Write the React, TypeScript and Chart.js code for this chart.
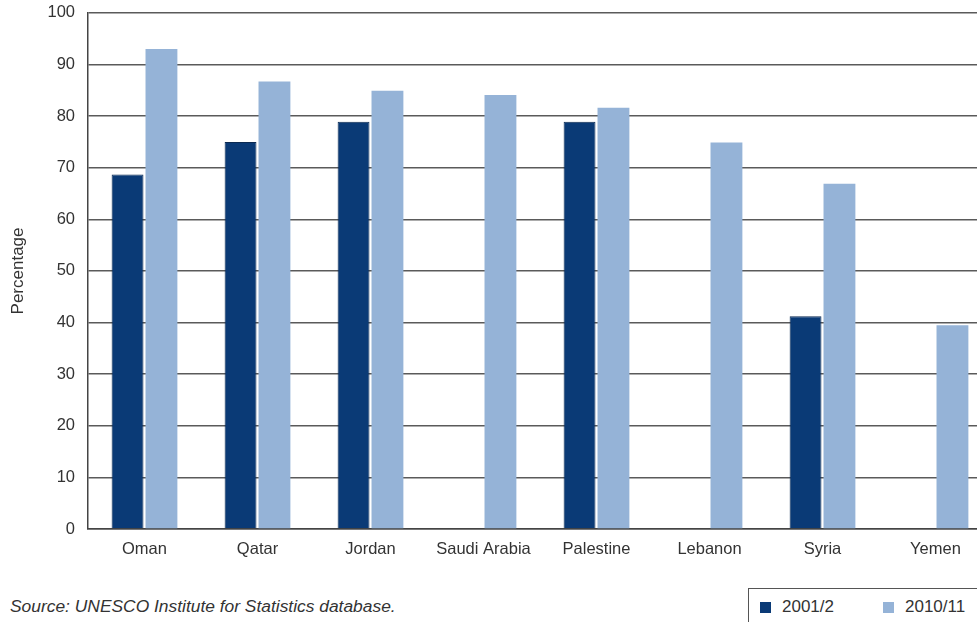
import React, { useEffect, useRef } from "react";
import { Chart, registerables } from "chart.js";

Chart.register(...registerables);

const categories = ["Oman", "Qatar", "Jordan", "Saudi Arabia", "Palestine", "Lebanon", "Syria", "Yemen"];
const series2001 = [68.7, 75.0, 78.9, null, 78.9, null, 41.2, null];
const series2010 = [93.0, 86.7, 84.9, 84.1, 81.6, 74.9, 66.9, 39.5];
const seriesLabels = ["2001/2", "2010/11"];
const seriesColors = ["#0a3a76", "#95b3d7"];
const yTicks = [0, 10, 20, 30, 40, 50, 60, 70, 80, 90, 100];
const yTitle = "Percentage";
const sourceText = "Source: UNESCO Institute for Statistics database.";

const FONT = "'Liberation Sans', Arial, sans-serif";

export default function App() {
  const ref = useRef<HTMLCanvasElement | null>(null);
  useEffect(() => {
    if (!ref.current) return;
    const chart = new Chart(ref.current, {
      type: "bar",
      data: {
        labels: categories,
        datasets: [
          {
            label: seriesLabels[0],
            data: series2001,
            backgroundColor: seriesColors[0],
            borderColor: "#0b2a52",
            borderWidth: 1,
            categoryPercentage: 0.6,
            barPercentage: 0.94,
          },
          {
            label: seriesLabels[1],
            data: series2010,
            backgroundColor: seriesColors[1],
            borderWidth: 0,
            categoryPercentage: 0.6,
            barPercentage: 0.94,
          },
        ],
      },
      options: {
        responsive: false,
        animation: false,
        layout: { padding: { left: 0, top: 3, right: 8, bottom: 0 } },
        plugins: { legend: { display: false }, tooltip: { enabled: false } },
        scales: {
          x: {
            grid: { display: false, drawTicks: false },
            border: { display: true, color: "#444", width: 1.5 },
            ticks: { color: "#333", font: { family: FONT, size: 16.5 }, padding: 11, maxRotation: 0, autoSkip: false },
            afterFit: (s: any) => { s.height = 46; },
          },
          y: {
            min: 0,
            max: 100,
            afterBuildTicks: (s: any) => { s.ticks = yTicks.map((v) => ({ value: v })); },
            grid: { color: "#5a5a5a", lineWidth: 1.5, drawTicks: false },
            border: { display: true, color: "#444", width: 1.5 },
            ticks: { color: "#333", font: { family: FONT, size: 16.5 }, padding: 13 },
            title: { display: true, text: yTitle, color: "#333", font: { family: FONT, size: 17 }, padding: { top: 8, bottom: 0 } },
            afterFit: (s: any) => { s.width = 88; },
          },
        },
      },
    });
    return () => chart.destroy();
  }, []);

  return (
    <div style={{ position: "fixed", left: 0, top: 0, width: 977, height: 622, overflow: "hidden", background: "#fff" }}>
      <canvas ref={ref} width={1000} height={585} style={{ position: "absolute", left: 0, top: -10, width: 1000, height: 585 }} />
      <div style={{ position: "absolute", left: 10, top: 596, fontFamily: FONT, fontStyle: "italic", fontSize: 17.4, color: "#333", whiteSpace: "nowrap" }}>
        {sourceText}
      </div>
      <div style={{ position: "absolute", left: 748, top: 588, width: 260, height: 60, border: "1px solid #555", boxSizing: "border-box" }}>
        {seriesLabels.map((l, i) => (
          <div key={l} style={{ position: "absolute", left: i === 0 ? 11 : 134, top: 8, display: "flex", alignItems: "center", fontFamily: FONT, fontSize: 17, color: "#333", lineHeight: "20px" }}>
            <span style={{ display: "inline-block", width: 11, height: 11, background: seriesColors[i], marginRight: 11 }} />
            {l}
          </div>
        ))}
      </div>
    </div>
  );
}
